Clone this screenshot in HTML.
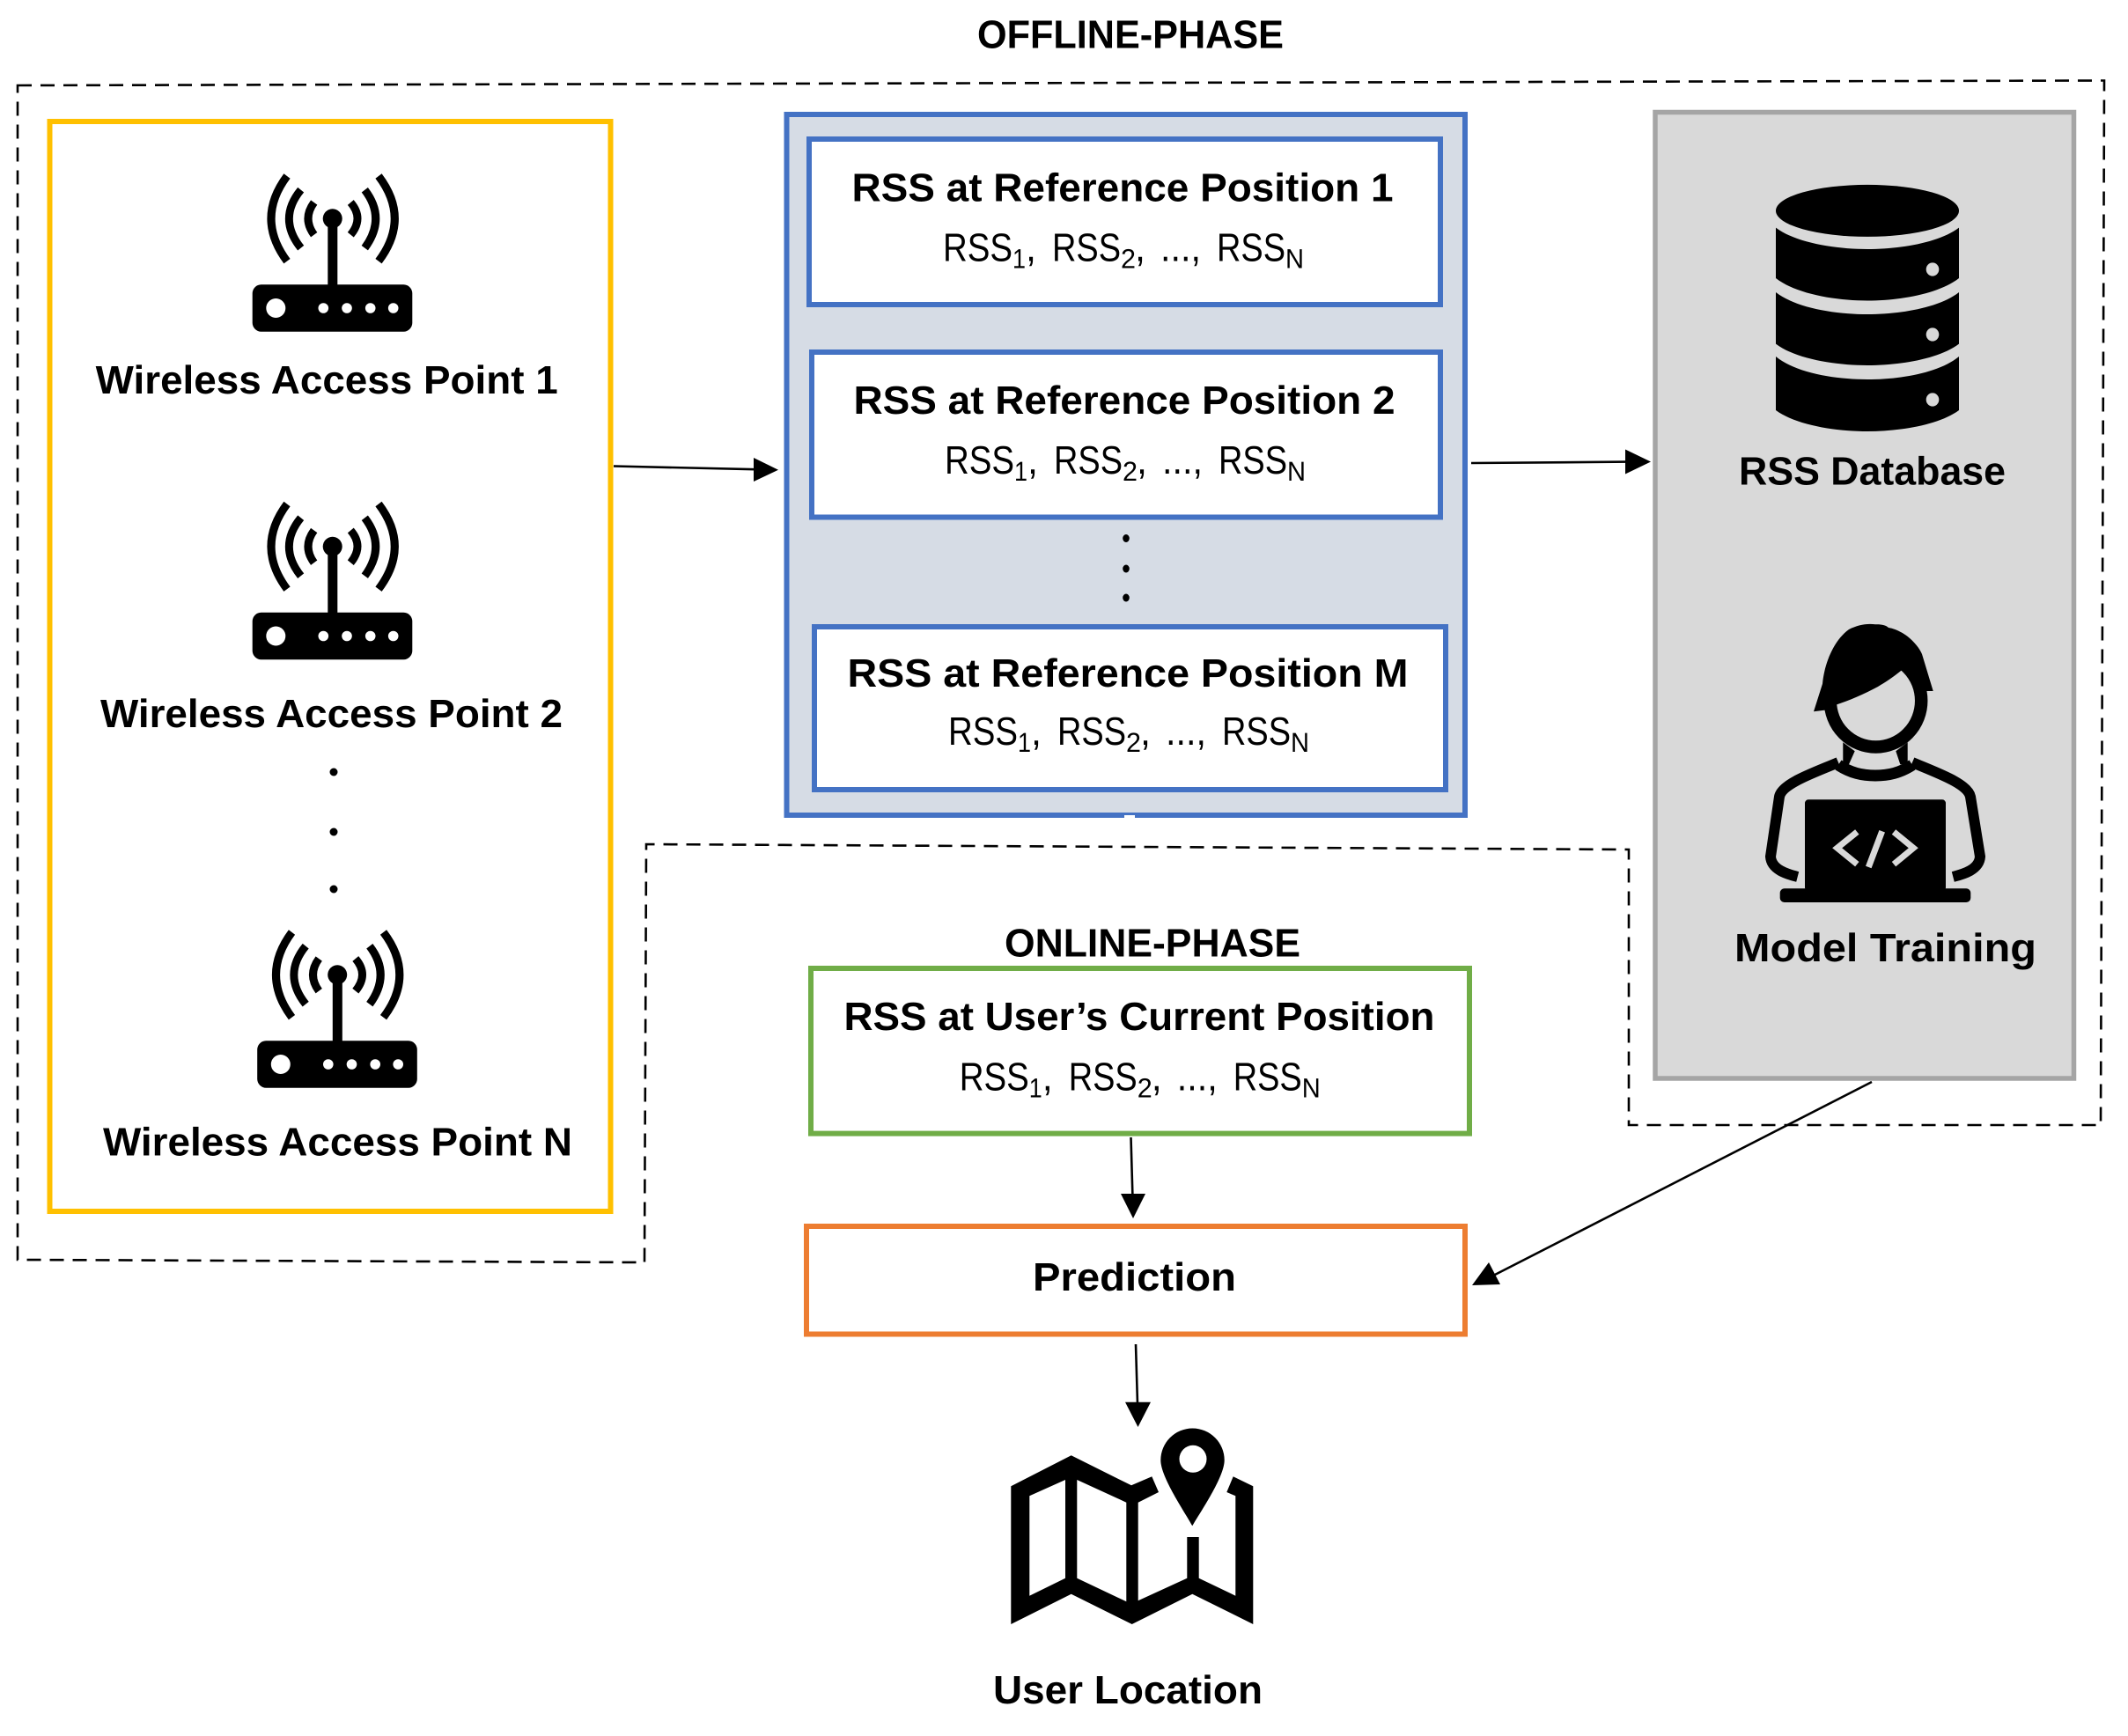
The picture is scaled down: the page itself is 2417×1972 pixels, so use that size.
<!DOCTYPE html>
<html lang="en">
<head>
<meta charset="utf-8">
<title>Offline and online phases diagram</title>
<style>
html,body{margin:0;padding:0;background:#fff;width:2417px;height:1972px;overflow:hidden}
svg{display:block}
text{font-family:"Liberation Sans",Arial,sans-serif;fill:#000;text-rendering:geometricPrecision}
.b{font-weight:bold;font-size:45px}
.r{font-size:45px}
.s{font-size:31px}
</style>
</head>
<body>
<svg xmlns="http://www.w3.org/2000/svg" width="2417" height="1972" viewBox="0 0 2417 1972">
<defs>
  <g id="router">
    <path d="M326,200Q290,248.3 326,296.7M341.7,215.7Q315,248.3 341.7,281.7M356.7,230Q343.3,248.3 356.7,266.7M430,200Q466.6,248.3 430,296.7M414.3,215.7Q439.1,248 414.3,281.7M398.3,230Q413.7,248 398.3,266.7" fill="none" stroke="#000" stroke-width="9"/>
    <rect x="372.3" y="248" width="11" height="78" fill="#000"/>
    <circle cx="377.7" cy="248.3" r="11" fill="#000"/>
    <rect x="286.7" y="323.3" width="181.6" height="53.4" rx="10" fill="#000"/>
    <circle cx="313.3" cy="350" r="11" fill="#fff"/>
    <circle cx="367.3" cy="350" r="5.8" fill="#fff"/>
    <circle cx="394" cy="350" r="5.8" fill="#fff"/>
    <circle cx="420.7" cy="350" r="5.8" fill="#fff"/>
    <circle cx="446.7" cy="350" r="5.8" fill="#fff"/>
  </g>
</defs>

<!-- dashed phase outline -->
<path d="M20,97L2390,91.5L2386,1278L1850,1278L1850,965L734,959L732,1434L20,1431Z" fill="none" stroke="#000" stroke-width="2.6" stroke-dasharray="16 10"/>

<text class="b" x="1110" y="54.7" textLength="348" lengthAdjust="spacingAndGlyphs">OFFLINE-PHASE</text>

<!-- yellow box -->
<rect x="56.5" y="138" width="637" height="1238" fill="#fff" stroke="#FFC000" stroke-width="6"/>
<use href="#router"/>
<use href="#router" transform="translate(0,372.5)"/>
<use href="#router" transform="translate(5.5,859)"/>
<text class="b" x="108.7" y="447" textLength="525" lengthAdjust="spacingAndGlyphs">Wireless Access Point 1</text>
<text class="b" x="114" y="826" textLength="525" lengthAdjust="spacingAndGlyphs">Wireless Access Point 2</text>
<text class="b" x="117" y="1312.6" textLength="533" lengthAdjust="spacingAndGlyphs">Wireless Access Point N</text>
<circle cx="379" cy="877" r="4.5"/><circle cx="379" cy="945" r="4.5"/><circle cx="379" cy="1010" r="4.5"/>

<!-- blue box -->
<rect x="893.5" y="130" width="770.5" height="796" fill="#D6DCE5" stroke="#4472C4" stroke-width="6"/>
<rect x="1277" y="926" width="12" height="4" fill="#fff"/>
<rect x="919" y="158" width="717" height="188" fill="#fff" stroke="#4472C4" stroke-width="6"/>
<rect x="922" y="400" width="714" height="187.5" fill="#fff" stroke="#4472C4" stroke-width="6"/>
<rect x="925" y="712" width="717" height="185" fill="#fff" stroke="#4472C4" stroke-width="6"/>
<ellipse cx="1279" cy="611.5" rx="3.8" ry="4.5"/><ellipse cx="1279" cy="646" rx="3.8" ry="4.5"/><ellipse cx="1279" cy="679" rx="3.8" ry="4.5"/>

<text class="b" x="967.5" y="228.5" textLength="615" lengthAdjust="spacingAndGlyphs">RSS at Reference Position 1</text>
<text class="b" x="969.5" y="470" textLength="615" lengthAdjust="spacingAndGlyphs">RSS at Reference Position 2</text>
<text class="b" x="962.5" y="780" textLength="637" lengthAdjust="spacingAndGlyphs">RSS at Reference Position M</text>

<g transform="translate(1071,296.7)">
  <text class="r" x="0" y="0" textLength="79" lengthAdjust="spacingAndGlyphs">RSS</text><text class="s" x="79" y="8" textLength="15" lengthAdjust="spacingAndGlyphs">1</text><text class="r" x="94" y="0" textLength="12" lengthAdjust="spacingAndGlyphs">,</text>
  <text class="r" x="124" y="0" textLength="78" lengthAdjust="spacingAndGlyphs">RSS</text><text class="s" x="202" y="8" textLength="17" lengthAdjust="spacingAndGlyphs">2</text><text class="r" x="218" y="0" textLength="12" lengthAdjust="spacingAndGlyphs">,</text>
  <text class="r" x="247" y="0" textLength="46" lengthAdjust="spacingAndGlyphs">...,</text>
  <text class="r" x="311" y="0" textLength="78" lengthAdjust="spacingAndGlyphs">RSS</text><text class="s" x="389" y="8" textLength="21" lengthAdjust="spacingAndGlyphs">N</text>
</g>
<g transform="translate(1073,538)">
  <text class="r" x="0" y="0" textLength="79" lengthAdjust="spacingAndGlyphs">RSS</text><text class="s" x="79" y="8" textLength="15" lengthAdjust="spacingAndGlyphs">1</text><text class="r" x="94" y="0" textLength="12" lengthAdjust="spacingAndGlyphs">,</text>
  <text class="r" x="124" y="0" textLength="78" lengthAdjust="spacingAndGlyphs">RSS</text><text class="s" x="202" y="8" textLength="17" lengthAdjust="spacingAndGlyphs">2</text><text class="r" x="218" y="0" textLength="12" lengthAdjust="spacingAndGlyphs">,</text>
  <text class="r" x="247" y="0" textLength="46" lengthAdjust="spacingAndGlyphs">...,</text>
  <text class="r" x="311" y="0" textLength="78" lengthAdjust="spacingAndGlyphs">RSS</text><text class="s" x="389" y="8" textLength="21" lengthAdjust="spacingAndGlyphs">N</text>
</g>
<g transform="translate(1077,846)">
  <text class="r" x="0" y="0" textLength="79" lengthAdjust="spacingAndGlyphs">RSS</text><text class="s" x="79" y="8" textLength="15" lengthAdjust="spacingAndGlyphs">1</text><text class="r" x="94" y="0" textLength="12" lengthAdjust="spacingAndGlyphs">,</text>
  <text class="r" x="124" y="0" textLength="78" lengthAdjust="spacingAndGlyphs">RSS</text><text class="s" x="202" y="8" textLength="17" lengthAdjust="spacingAndGlyphs">2</text><text class="r" x="218" y="0" textLength="12" lengthAdjust="spacingAndGlyphs">,</text>
  <text class="r" x="247" y="0" textLength="46" lengthAdjust="spacingAndGlyphs">...,</text>
  <text class="r" x="311" y="0" textLength="78" lengthAdjust="spacingAndGlyphs">RSS</text><text class="s" x="389" y="8" textLength="21" lengthAdjust="spacingAndGlyphs">N</text>
</g>

<!-- gray box -->
<rect x="1880" y="127.5" width="475.5" height="1097.5" fill="#D9D9D9" stroke="#A5A5A5" stroke-width="5.5"/>

<!-- database -->
<ellipse cx="2121" cy="239.4" rx="104" ry="29.5" fill="#000"/>
<path d="M2017,258.6C2040,276 2085,283 2121,283C2157,283 2202,276 2225,258.6V316C2202,334 2157,341.5 2121,341.5C2085,341.5 2040,334 2017,316Z" fill="#000"/>
<path d="M2017,332C2040,350 2085,357 2121,357C2157,357 2202,350 2225,332V390.6C2202,408 2157,415 2121,415C2085,415 2040,408 2017,390.6Z" fill="#000"/>
<path d="M2017,405C2040,424 2085,431 2121,431C2157,431 2202,424 2225,405V466C2202,483 2157,490 2121,490C2085,490 2040,483 2017,466Z" fill="#000"/>
<ellipse cx="2195" cy="306" rx="7.3" ry="7.6" fill="#D9D9D9"/>
<ellipse cx="2195" cy="380" rx="7.3" ry="7.6" fill="#D9D9D9"/>
<ellipse cx="2195" cy="454" rx="7.3" ry="7.6" fill="#D9D9D9"/>
<text class="b" x="1975" y="550.7" textLength="303" lengthAdjust="spacingAndGlyphs">RSS Database</text>

<!-- person -->
<ellipse cx="2130.5" cy="796" rx="51.7" ry="52.5" fill="#D9D9D9" stroke="#000" stroke-width="14.5"/>
<path d="M2060,808.3L2070,776.7C2072,755 2082,728 2100,715C2110,710 2120,708 2130,709.3C2136,709 2142,710 2145,713C2152,714 2160,718 2166.7,723C2174,729 2180,736 2183,743L2195.7,785L2185,785L2164,758C2152,768 2143,774 2133,780C2118,788 2100,796 2085,800.7L2078,806Z" fill="#000"/>
<path d="M2093.3,843.3L2106.7,853.3L2100,868.3L2093.3,868ZM2166.7,843.3L2153.3,853.3L2158.3,868.3L2166.7,868Z" fill="#000"/>
<path d="M2041.7,996C2030,993 2012,988 2011,973L2021,905C2024,890 2060,878 2088,866" fill="none" stroke="#000" stroke-width="12"/>
<path d="M2218.3,996C2230,993 2248,988 2249,973L2238,905C2235,890 2200,878 2172,866" fill="none" stroke="#000" stroke-width="12"/>
<path d="M2088,869C2102,878 2115,881 2130,881C2145,881 2158,878 2172,869" fill="none" stroke="#000" stroke-width="13"/>
<rect x="2050" y="908.3" width="160" height="104" rx="4" fill="#000"/>
<rect x="2021.7" y="1009.3" width="216.6" height="15.7" rx="5" fill="#000"/>
<path d="M2109.3,945L2086.7,963.3L2109.3,981.7M2137.7,944.3L2122.3,985M2151,945L2173.3,963.3L2151,981.7" fill="none" stroke="#D9D9D9" stroke-width="7"/>
<text class="b" x="1970" y="1092" textLength="343" lengthAdjust="spacingAndGlyphs">Model Training</text>

<!-- online phase -->
<text class="b" x="1141" y="1086.6" textLength="336" lengthAdjust="spacingAndGlyphs">ONLINE-PHASE</text>
<rect x="921" y="1100" width="748" height="187.6" fill="#fff" stroke="#70AD47" stroke-width="6"/>
<text class="b" x="958.5" y="1170" textLength="671" lengthAdjust="spacingAndGlyphs">RSS at User’s Current Position</text>
<g transform="translate(1089.7,1238.4)">
  <text class="r" x="0" y="0" textLength="79" lengthAdjust="spacingAndGlyphs">RSS</text><text class="s" x="79" y="8" textLength="15" lengthAdjust="spacingAndGlyphs">1</text><text class="r" x="94" y="0" textLength="12" lengthAdjust="spacingAndGlyphs">,</text>
  <text class="r" x="124" y="0" textLength="78" lengthAdjust="spacingAndGlyphs">RSS</text><text class="s" x="202" y="8" textLength="17" lengthAdjust="spacingAndGlyphs">2</text><text class="r" x="218" y="0" textLength="12" lengthAdjust="spacingAndGlyphs">,</text>
  <text class="r" x="247" y="0" textLength="46" lengthAdjust="spacingAndGlyphs">...,</text>
  <text class="r" x="311" y="0" textLength="78" lengthAdjust="spacingAndGlyphs">RSS</text><text class="s" x="389" y="8" textLength="21" lengthAdjust="spacingAndGlyphs">N</text>
</g>
<rect x="916" y="1393" width="748" height="122.5" fill="#fff" stroke="#ED7D31" stroke-width="6"/>
<text class="b" x="1173" y="1466" textLength="231" lengthAdjust="spacingAndGlyphs">Prediction</text>

<!-- arrows -->
<g stroke="#000" stroke-width="2.6" fill="none">
  <line x1="697" y1="529.5" x2="858" y2="533.2"/>
  <line x1="1671" y1="526" x2="1848" y2="524.6"/>
  <line x1="1284.5" y1="1292" x2="1286.4" y2="1358"/>
  <line x1="2126" y1="1229" x2="1696" y2="1449"/>
  <line x1="1290" y1="1527" x2="1292" y2="1595"/>
</g>
<polygon points="884,533.7 856,520 856,547" fill="#000"/>
<polygon points="1875,524.5 1846,510.5 1846,538.5" fill="#000"/>
<polygon points="1287,1384 1273,1356 1301,1356" fill="#000"/>
<polygon points="1672,1460 1691,1434 1704,1459" fill="#000"/>
<polygon points="1292.5,1621 1278,1592.7 1307,1592.7" fill="#000"/>

<!-- map -->
<path fill-rule="evenodd" fill="#000" d="M1148.3,1688.3L1216.7,1653.3L1285,1687.3L1308.3,1677.3L1316,1695L1292.7,1706.7V1818.3L1348.3,1792.7V1746H1361.7V1792.7L1403.3,1812.7V1699.3L1393.3,1695L1400.7,1677.3L1423.3,1688.3V1845L1354.3,1810.7L1285.7,1845L1216.7,1810.7L1148.3,1845ZM1169.3,1699.3V1812.7L1210,1792.7V1681ZM1223.3,1681V1792.7L1279.3,1819.3V1706.7Z"/>
<path fill="#000" d="M1354.3,1733.3C1346,1718 1318.3,1678 1318.3,1658.7A36,36 0 0 1 1390.7,1658.7C1390.7,1678 1363,1718 1354.3,1733.3Z"/>
<circle cx="1355" cy="1657.3" r="15.5" fill="#fff"/>
<text class="b" x="1128" y="1935" textLength="306" lengthAdjust="spacingAndGlyphs">User Location</text>
</svg>
</body>
</html>
